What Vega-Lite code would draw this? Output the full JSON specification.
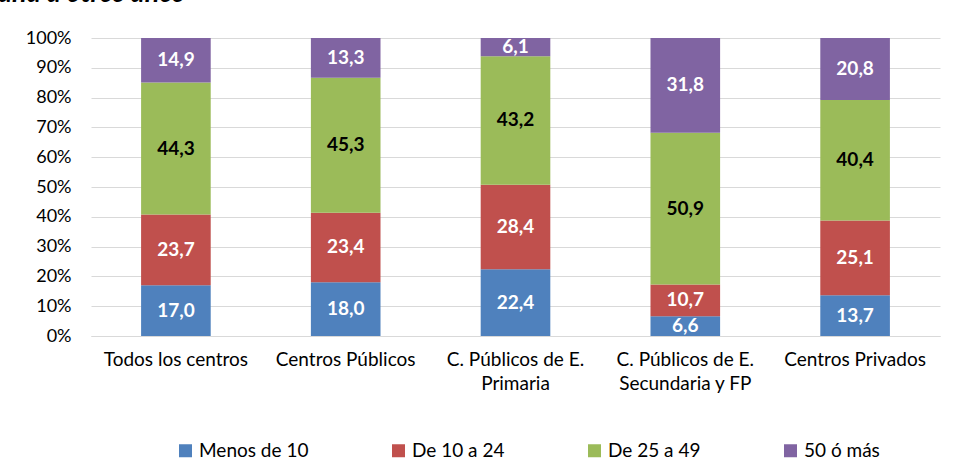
{
  "$schema": "https://vega.github.io/schema/vega-lite/v6.json",
  "width": 849,
  "height": 298,
  "autosize": {"type": "none"},
  "padding": {"left": 91, "top": 38, "right": 20, "bottom": 133},
  "background": "white",
  "title": {"text": "ana a otros años", "anchor": "start", "frame": "group", "dx": -93, "dy": 0, "fontSize": 27, "font": "Lato", "fontWeight": "bold", "fontStyle": "italic", "color": "black", "baseline": "alphabetic", "offset": 0},
  "config": {
    "locale": {"number": {"decimal": ",", "thousands": ".", "grouping": [3], "currency": ["", " €"]}},
    "view": {"stroke": null},
    "font": "Lato",
    "axisY": {"tickCount": 11, "labelOverlap": false}
  },
  "data": {"values": [
    {"centro": "Todos los centros", "grupo": "Menos de 10", "k": 1, "valor": 17.0},
    {"centro": "Todos los centros", "grupo": "De 10 a 24", "k": 2, "valor": 23.7},
    {"centro": "Todos los centros", "grupo": "De 25 a 49", "k": 3, "valor": 44.3},
    {"centro": "Todos los centros", "grupo": "50 ó más", "k": 4, "valor": 14.9},
    {"centro": "Centros Públicos", "grupo": "Menos de 10", "k": 1, "valor": 18.0},
    {"centro": "Centros Públicos", "grupo": "De 10 a 24", "k": 2, "valor": 23.4},
    {"centro": "Centros Públicos", "grupo": "De 25 a 49", "k": 3, "valor": 45.3},
    {"centro": "Centros Públicos", "grupo": "50 ó más", "k": 4, "valor": 13.3},
    {"centro": "C. Públicos de E.|Primaria", "grupo": "Menos de 10", "k": 1, "valor": 22.4},
    {"centro": "C. Públicos de E.|Primaria", "grupo": "De 10 a 24", "k": 2, "valor": 28.4},
    {"centro": "C. Públicos de E.|Primaria", "grupo": "De 25 a 49", "k": 3, "valor": 43.2},
    {"centro": "C. Públicos de E.|Primaria", "grupo": "50 ó más", "k": 4, "valor": 6.1},
    {"centro": "C. Públicos de E.|Secundaria y FP", "grupo": "Menos de 10", "k": 1, "valor": 6.6},
    {"centro": "C. Públicos de E.|Secundaria y FP", "grupo": "De 10 a 24", "k": 2, "valor": 10.7},
    {"centro": "C. Públicos de E.|Secundaria y FP", "grupo": "De 25 a 49", "k": 3, "valor": 50.9},
    {"centro": "C. Públicos de E.|Secundaria y FP", "grupo": "50 ó más", "k": 4, "valor": 31.8},
    {"centro": "Centros Privados", "grupo": "Menos de 10", "k": 1, "valor": 13.7},
    {"centro": "Centros Privados", "grupo": "De 10 a 24", "k": 2, "valor": 25.1},
    {"centro": "Centros Privados", "grupo": "De 25 a 49", "k": 3, "valor": 40.4},
    {"centro": "Centros Privados", "grupo": "50 ó más", "k": 4, "valor": 20.8}
  ]},
  "transform": [
    {"stack": "valor", "groupby": ["centro"], "sort": [{"field": "k", "order": "ascending"}], "offset": "normalize", "as": ["v0", "v1"]}
  ],
  "encoding": {
    "x": {
      "field": "centro", "type": "nominal",
      "sort": ["Todos los centros", "Centros Públicos", "C. Públicos de E.|Primaria", "C. Públicos de E.|Secundaria y FP", "Centros Privados"],
      "scale": {"paddingInner": 0.59, "paddingOuter": 0.295},
      "axis": {"title": null, "labelAngle": 0, "labelExpr": "split(datum.label, '|')", "labelFontSize": 19, "labelColor": "black", "labelPadding": 14, "ticks": false, "domainColor": "#D9D9D9", "domainWidth": 1, "labelLineHeight": 24, "labelBaseline": "top"}
    }
  },
  "layer": [
    {
      "mark": {"type": "bar"},
      "encoding": {
        "y": {
          "field": "v0", "type": "quantitative",
          "scale": {"domain": [0, 1], "nice": false},
          "axis": {"title": null, "format": ".0%", "values": [0, 0.1, 0.2, 0.3, 0.4, 0.5, 0.6, 0.7, 0.8, 0.9, 1], "tickCount": 11, "labelOverlap": false, "labelFontSize": 18, "labelColor": "black", "labelPadding": 20, "ticks": false, "domain": false, "grid": true, "gridColor": "#D9D9D9", "gridWidth": 1}
        },
        "y2": {"field": "v1"},
        "color": {
          "field": "grupo", "type": "nominal",
          "sort": ["Menos de 10", "De 10 a 24", "De 25 a 49", "50 ó más"],
          "scale": {"domain": ["Menos de 10", "De 10 a 24", "De 25 a 49", "50 ó más"], "range": ["#4F81BD", "#C0504D", "#9BBB59", "#8064A2"]},
          "legend": {"title": null, "orient": "none", "legendX": 85, "legendY": 403, "direction": "horizontal", "symbolType": "square", "symbolSize": 169, "symbolStrokeWidth": 0, "labelFontSize": 19, "labelColor": "black", "columnPadding": 80, "labelOffset": 4}
        }
      }
    },
    {
      "transform": [
        {"fold": ["v0", "v1"], "as": ["lim", "pos"]},
        {"aggregate": [{"op": "mean", "field": "pos", "as": "mid"}], "groupby": ["centro", "grupo", "valor"]}
      ],
      "mark": {"type": "text", "fontSize": 19, "fontWeight": "bold", "baseline": "middle"},
      "encoding": {
        "y": {
          "field": "mid", "type": "quantitative",
          "axis": {"title": null, "format": ".0%", "values": [0, 0.1, 0.2, 0.3, 0.4, 0.5, 0.6, 0.7, 0.8, 0.9, 1], "tickCount": 11, "labelOverlap": false, "labelFontSize": 18, "labelColor": "black", "labelPadding": 20, "ticks": false, "domain": false, "grid": true, "gridColor": "#D9D9D9", "gridWidth": 1}
        },
        "text": {"field": "valor", "type": "quantitative", "format": ".1f"},
        "color": {"condition": {"test": "datum.grupo === 'De 25 a 49'", "value": "black"}, "value": "white"}
      }
    }
  ]
}
